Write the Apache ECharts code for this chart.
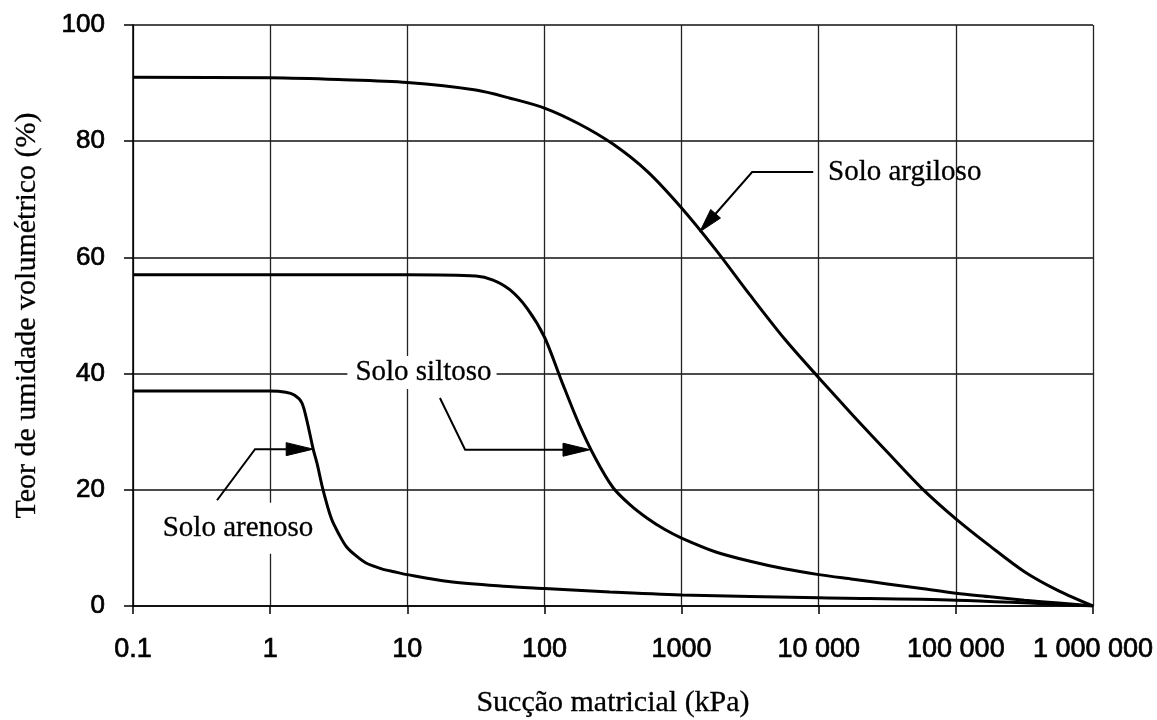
<!DOCTYPE html>
<html><head><meta charset="utf-8">
<script src="https://cdn.jsdelivr.net/npm/echarts@6/dist/echarts.min.js"></script>
<style>html,body{margin:0;padding:0;background:#fff}#c{width:1157px;height:720px}</style>
</head><body><div id="c"></div>
<script>
// ---- tick labels ----
const xTickLabels = ['0.1', '1', '10', '100', '1000', '10 000', '100 000', '1 000 000'];
const yTickValues = [0, 20, 40, 60, 80, 100];

// ---- series: suction (kPa) and volumetric water content (%) ----
const sandSuction  = [0.1, 0.5, 1, 1.3, 1.5, 1.7, 1.85, 2.06, 2.2, 2.43, 2.8, 3.2, 3.6, 4.2, 5, 6.5, 8, 10, 20, 50, 100, 300, 1000, 10000, 100000, 1000000];
const sandMoisture = [37, 37, 37, 36.8, 36.3, 35, 32, 27, 24.5, 20, 15, 12.2, 10.2, 8.7, 7.4, 6.4, 5.9, 5.4, 4.2, 3.4, 3.0, 2.4, 1.9, 1.4, 1.0, 0];

const siltSuction  = [0.1, 1, 10, 31.6, 42.2, 56.2, 75, 100, 133, 178, 237, 316, 422, 562, 750, 1000, 1778, 3162, 5623, 10000, 17783, 31623, 56234, 100000, 177828, 316228, 562341, 1000000];
const siltMoisture = [57, 57, 57, 56.8, 56.1, 54.4, 51.2, 46.3, 38.8, 31.4, 25.3, 20.4, 17.4, 15.1, 13.2, 11.7, 9.3, 7.7, 6.4, 5.4, 4.6, 3.8, 3.0, 2.2, 1.6, 1.0, 0.5, 0];

const claySuction  = [0.1, 1, 3.16, 10, 31.6, 56.2, 100, 178, 316, 562, 1000, 1778, 3162, 5623, 10000, 17783, 31623, 56234, 100000, 177828, 316228, 562341, 1000000];
const clayMoisture = [91, 90.9, 90.6, 90.1, 88.8, 87.4, 85.7, 83.0, 79.5, 74.8, 68.5, 61.3, 53.5, 46.0, 39.3, 32.8, 26.5, 20.3, 15.0, 10.3, 5.9, 2.6, 0];

// ---- annotations (data coordinates) ----
const clayLabel = {text: 'Solo argiloso', at: [11700, 74.6], align: 'left'};
const clayLeader = [[9120, 74.7], [3270, 74.7], [1358, 64.4]];
const siltLabel = {text: 'Solo siltoso', at: [12.8, 40.2], align: 'center'};
const siltLeader = [[17.3, 35.8], [26.4, 26.9], [215, 26.9]];
const sandLabel = {text: 'Solo arenoso', at: [0.583, 13.4], align: 'center'};
const sandLeader = [[0.41, 18.2], [0.776, 27], [2.06, 27]];

function pairs(xs, ys) { return xs.map((x, i) => [x, ys[i]]); }

const chart = echarts.init(document.getElementById('c'), null, {renderer: 'canvas'});
const numFont = '"Liberation Sans", Arial, sans-serif';
const serifFont = '"Liberation Serif", "Times New Roman", serif';
const lineStyle = {color: '#000', width: 3};
const numText = {fontFamily: numFont, color: '#000', textBorderColor: '#000', textBorderWidth: 0.7};

chart.setOption({
  animation: false,
  backgroundColor: '#fff',
  grid: {left: 133, right: 64, top: 25, bottom: 114, show: false, outerBoundsMode: 'none', containLabel: false},
  xAxis: {
    type: 'log', logBase: 10, min: 0.1, max: 1000000,
    name: 'Sucção matricial (kPa)', nameLocation: 'middle', nameGap: 82,
    nameTextStyle: {fontFamily: serifFont, fontSize: 30, color: '#000', textBorderColor: '#000', textBorderWidth: 0.3},
    axisLine: {show: true, onZero: false, lineStyle: {color: '#000', width: 1.5}},
    axisTick: {show: true, inside: false, length: 8, lineStyle: {color: '#000', width: 1.5}},
    minorTick: {show: false},
    axisLabel: Object.assign({
      margin: 30, fontSize: 27,
      formatter: v => xTickLabels[Math.round(Math.log10(v)) + 1] || ''
    }, numText),
    splitLine: {show: true, lineStyle: {color: '#222', width: 1.3}}
  },
  yAxis: {
    type: 'value', min: yTickValues[0], max: yTickValues[yTickValues.length - 1], interval: 20,
    name: 'Teor de umidade volumétrico (%)', nameLocation: 'middle', nameGap: 91,
    nameTextStyle: {fontFamily: serifFont, fontSize: 30, color: '#000', textBorderColor: '#000', textBorderWidth: 0.3},
    axisLine: {show: true, lineStyle: {color: '#000', width: 1.5}},
    axisTick: {show: true, inside: false, length: 9, lineStyle: {color: '#000', width: 1.5}},
    axisLabel: Object.assign({margin: 28, fontSize: 26}, numText),
    splitLine: {show: true, lineStyle: {color: '#111', width: 1.6}}
  },
  series: [
    {name: 'Solo arenoso', type: 'line', data: pairs(sandSuction, sandMoisture), showSymbol: false, smooth: 0.3, lineStyle, z: 5},
    {name: 'Solo siltoso', type: 'line', data: pairs(siltSuction, siltMoisture), showSymbol: false, smooth: 0.3, lineStyle, z: 5},
    {name: 'Solo argiloso', type: 'line', data: pairs(claySuction, clayMoisture), showSymbol: false, smooth: 0.3, lineStyle, z: 5}
  ]
});

function px(p) { return chart.convertToPixel({gridIndex: 0}, p); }

function leader(points, headLen, headHalf) {
  const pts = points.map(px);
  const n = pts.length;
  const tip = pts[n - 1], prev = pts[n - 2];
  const dx = tip[0] - prev[0], dy = tip[1] - prev[1];
  const d = Math.hypot(dx, dy), ux = dx / d, uy = dy / d;
  const bx = tip[0] - ux * headLen, by = tip[1] - uy * headLen;
  const lineEnd = pts.slice(0, n - 1).concat([[bx, by]]);
  return [
    {type: 'polyline', z: 10, shape: {points: lineEnd}, style: {stroke: '#000', lineWidth: 2, fill: null}},
    {type: 'polygon', z: 10, shape: {points: [tip, [bx - uy * headHalf, by + ux * headHalf], [bx + uy * headHalf, by - ux * headHalf]]}, style: {fill: '#000', stroke: '#000', lineWidth: 1}}
  ];
}

function label(l, pad) {
  const p = px(l.at);
  return {type: 'text', z: 9, style: {
    text: l.text, x: p[0], y: p[1], align: l.align, verticalAlign: 'middle',
    font: '29px ' + serifFont, fill: '#000', stroke: '#000', lineWidth: 0.3,
    backgroundColor: pad ? '#fff' : null, padding: pad || 0
  }};
}

chart.setOption({
  graphic: [].concat(
    leader(clayLeader, 24, 6.5),
    leader(siltLeader, 27, 6.5),
    leader(sandLeader, 27, 6.5),
    [label(clayLabel, null), label(siltLabel, [2, 5, 2, 8]), label(sandLabel, [12, 2, 10, 2])]
  )
});
</script>
</body></html>
